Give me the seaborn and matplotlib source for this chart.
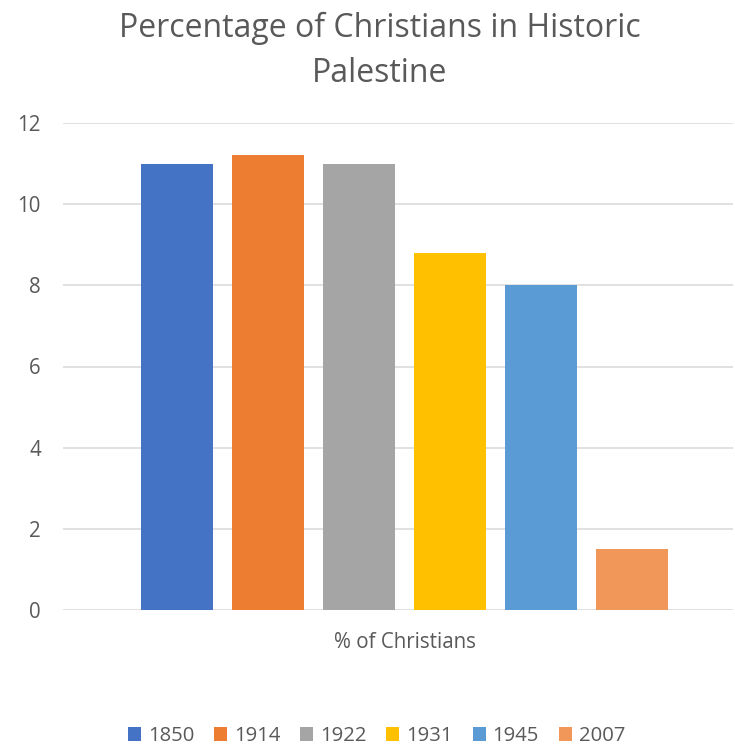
import matplotlib
matplotlib.use("Agg")
import matplotlib.pyplot as plt
from matplotlib.patches import Patch
import seaborn as sns
import pandas as pd

# ---- data ----
category = "% of Christians"
years = ["1850", "1914", "1922", "1931", "1945", "2007"]
percentages = [11.0, 11.2, 11.0, 8.8, 8.0, 1.5]
colors = ["#4472C4", "#ED7D31", "#A5A5A5", "#FFC000", "#5B9BD5", "#F1975A"]
yticks = [0, 2, 4, 6, 8, 10, 12]
title = "Percentage of Christians in Historic\nPalestine"

df = pd.DataFrame({"category": [category] * len(years),
                   "year": years,
                   "value": percentages})

sns.set_theme(style="white")
plt.rcParams["font.family"] = ["Open Sans", "DejaVu Sans"]
text_color = "#595959"

W, H = 735, 749
fig = plt.figure(figsize=(W / 100, H / 100), dpi=100)
ax = fig.add_axes([63 / W, 1 - 610 / H, 670 / W, 487 / H])

sns.barplot(data=df, x="category", y="value", hue="year", hue_order=years,
            palette=colors, saturation=1, width=0.815, gap=0.21,
            linewidth=0, legend=False, ax=ax, zorder=3)

ax.set_ylim(0, 12)
ax.set_xlim(-0.51, 0.49)
ax.set_yticks(yticks)
ax.set_yticklabels([str(t) for t in yticks])
ax.grid(axis="y", color="#D9D9D9", linewidth=1.1, zorder=0)
ax.grid(axis="x", visible=False)
ax.set_axisbelow(True)
for s in ax.spines.values():
    s.set_visible(False)
ax.tick_params(axis="y", length=0, pad=16, labelsize=14.8, labelcolor=text_color)
ax.tick_params(axis="x", length=0, pad=16, labelsize=14.8, labelcolor=text_color)
ax.set_xlabel("")
ax.set_ylabel("")

fig.text(380 / W, 1 - 51 / H, title, ha="center", va="center",
         fontsize=23, color=text_color, linespacing=1.47)

handles = [Patch(facecolor=c, edgecolor="none", label=y) for c, y in zip(colors, years)]
leg = fig.legend(handles=handles, loc="center", bbox_to_anchor=(376.5 / W, 1 - 736 / H),
                 ncol=6, frameon=False, fontsize=14.6, handlelength=0.64, handleheight=0.64,
                 handletextpad=0.34, columnspacing=0.98, borderpad=0, borderaxespad=0)
for t in leg.get_texts():
    t.set_color(text_color)

fig.savefig("out.png", dpi=100, facecolor="white")
